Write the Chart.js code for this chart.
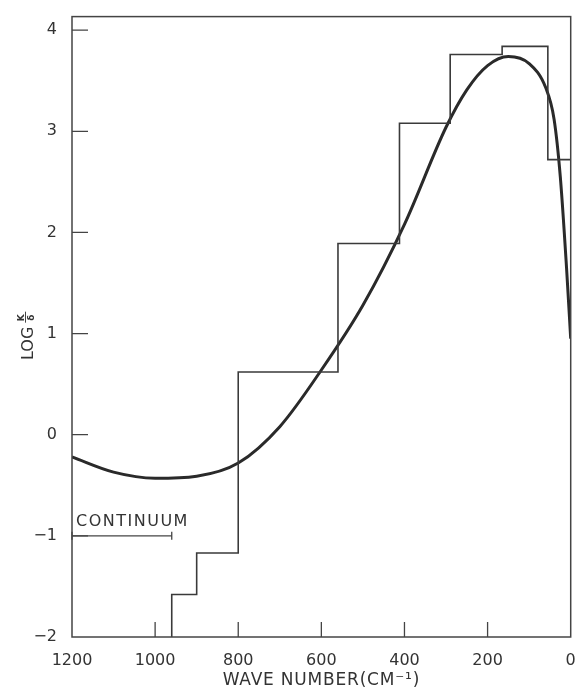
<!DOCTYPE html>
<html>
<head>
<meta charset="utf-8">
<script src="https://cdn.jsdelivr.net/npm/chart.js@4.4.0/dist/chart.umd.min.js"></script>
<style>
  html, body { margin: 0; padding: 0; background: #fff; }
  #wrap { width: 576px; height: 687px; }
</style>
</head>
<body>
<div id="wrap"><canvas id="chart"></canvas></div>
<script>
// smooth curve: wave number (cm-1) and log(K/delta)
const curveWave = [1200, 1100, 1000, 900, 800, 700, 600, 500, 400, 300, 250, 200, 150, 100, 60, 40, 25, 10, 0];
const curveLog = [-0.22, -0.37, -0.43, -0.41, -0.28, 0.08, 0.64, 1.28, 2.08, 3.04, 3.41, 3.65, 3.74, 3.67, 3.43, 3.12, 2.55, 1.65, 0.95];

// histogram: bin edges (high to low wave number) and the level of each bin
const stepEdges = [960, 900, 800, 560, 412, 290, 165, 55, 0];
const stepLog = [-1.58, -1.17, 0.62, 1.89, 3.08, 3.76, 3.84, 2.72];

// continuum marker
const continuumLabel = 'CONTINUUM';
const continuumRange = [1200, 960];
const continuumLevel = -1;

const xTicks = [1200, 1000, 800, 600, 400, 200, 0];
const yTicks = [-2, -1, 0, 1, 2, 3, 4];
const xTitle = 'WAVE NUMBER(CM\u207B\u00B9)';

const ink = '#333';
const fontFamily = '"DejaVu Sans", sans-serif';

const curvePoints = curveWave.map((w, i) => ({ x: w, y: curveLog[i] }));
const stepPoints = [{ x: stepEdges[0], y: yTicks[0] }]
    .concat(stepLog.map((v, i) => ({ x: stepEdges[i + 1], y: v })));
const continuumPoints = continuumRange.map(w => ({ x: w, y: continuumLevel }));

// frame, inward tick marks, continuum text and the axis titles
const decorations = {
    id: 'decorations',
    afterDatasetsDraw(chart) {
        const { ctx, chartArea: a, scales: { x, y } } = chart;
        ctx.save();
        ctx.strokeStyle = '#444';
        ctx.lineWidth = 1.5;
        ctx.strokeRect(a.left, a.top, a.right - a.left, a.bottom - a.top);

        ctx.lineWidth = 1.3;
        ctx.beginPath();
        xTicks.slice(1, -1).forEach(v => {
            const px = x.getPixelForValue(v);
            ctx.moveTo(px, a.bottom);
            ctx.lineTo(px, a.bottom - 15);
        });
        yTicks.slice(1).forEach(v => {
            const py = y.getPixelForValue(v);
            ctx.moveTo(a.left, py);
            ctx.lineTo(a.left + 16, py);
        });
        ctx.stroke();

        // continuum label
        ctx.fillStyle = ink;
        ctx.font = '16px ' + fontFamily;
        ctx.letterSpacing = '1.5px';
        ctx.textBaseline = 'alphabetic';
        ctx.textAlign = 'left';
        ctx.fillText(continuumLabel, x.getPixelForValue(continuumRange[0]) + 4,
            y.getPixelForValue(continuumLevel) - 10);

        // x title, spaced out like the original lettering
        ctx.font = '17px ' + fontFamily;
        ctx.letterSpacing = '0.8px';
        ctx.textAlign = 'center';
        ctx.fillText(xTitle, (a.left + a.right) / 2, 685);
        ctx.letterSpacing = '0px';

        // y title: LOG K/delta, rotated
        ctx.translate(27, 360);
        ctx.rotate(-Math.PI / 2);
        ctx.textAlign = 'left';
        ctx.font = '16px ' + fontFamily;
        ctx.fillText('LOG', 0, 6);
        const fx = ctx.measureText('LOG').width + 4;
        ctx.font = 'bold 9px ' + fontFamily;
        ctx.textAlign = 'center';
        ctx.fillText('K', fx + 5, -3);
        ctx.fillText('δ', fx + 5, 7);
        ctx.beginPath();
        ctx.lineWidth = 1;
        ctx.moveTo(fx, -1.5);
        ctx.lineTo(fx + 11, -1.5);
        ctx.stroke();
        ctx.restore();
    }
};

const minus = v => String(v).replace('-', '\u2212');

new Chart(document.getElementById('chart'), {
    type: 'line',
    data: {
        datasets: [
            {
                label: 'histogram',
                data: stepPoints,
                stepped: 'after',
                borderColor: '#3a3a3a',
                borderWidth: 1.6,
                pointRadius: 0,
                fill: false
            },
            {
                label: 'curve',
                data: curvePoints,
                cubicInterpolationMode: 'monotone',
                borderColor: '#2a2a2a',
                borderWidth: 3,
                pointRadius: 0,
                fill: false
            },
            {
                label: 'continuum',
                data: continuumPoints,
                borderColor: '#444',
                borderWidth: 1.2,
                pointStyle: 'line',
                rotation: 90,
                pointRadius: 4,
                pointBorderWidth: 1.3,
                pointBorderColor: '#444',
                clip: false,
                fill: false
            }
        ]
    },
    options: {
        responsive: true,
        maintainAspectRatio: false,
        animation: false,
        events: [],
        layout: { padding: { left: 0, top: 11, right: 5, bottom: 0 } },
        plugins: {
            legend: { display: false },
            tooltip: { enabled: false }
        },
        scales: {
            x: {
                type: 'linear',
                reverse: true,
                min: 0,
                max: 1200,
                grid: { display: false },
                border: { display: false },
                ticks: {
                    stepSize: 200,
                    padding: 6,
                    color: ink,
                    font: { family: fontFamily, size: 16 },
                    maxRotation: 0,
                    callback: v => String(v)
                },
                afterFit(scale) {
                    scale.height = 50;
                    scale.paddingLeft = 0;
                    scale.paddingRight = 0;
                }
            },
            y: {
                type: 'linear',
                min: -2,
                max: 4.134,
                grid: { display: false },
                border: { display: false },
                ticks: {
                    stepSize: 1,
                    includeBounds: false,
                    padding: 7,
                    color: ink,
                    font: { family: fontFamily, size: 16 },
                    callback: v => minus(v)
                },
                afterFit(scale) { scale.width = 72; }
            }
        }
    },
    plugins: [decorations]
});
</script>
</body>
</html>
